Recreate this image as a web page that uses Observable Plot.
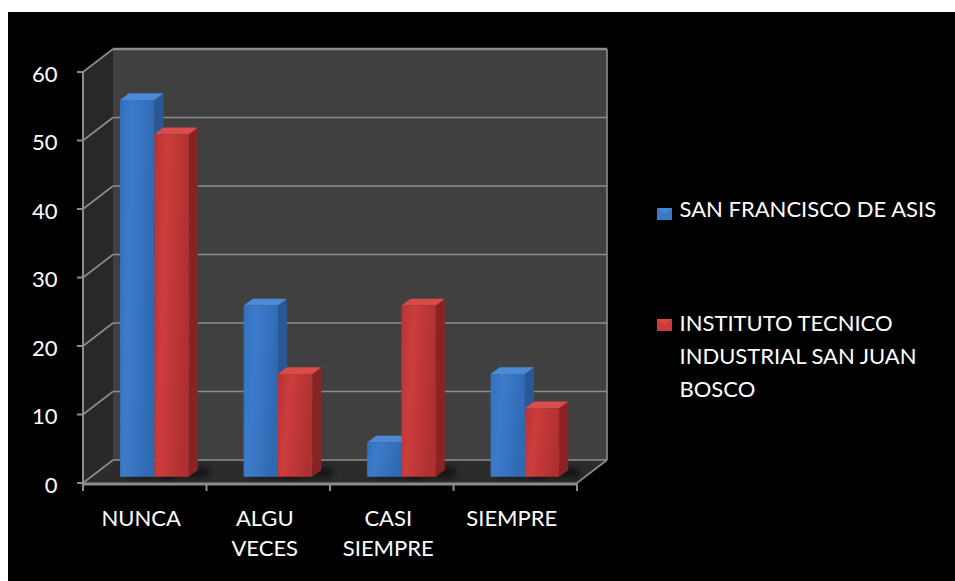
<!DOCTYPE html>
<html>
<head>
<meta charset="utf-8">
<script src="https://cdn.jsdelivr.net/npm/d3@7"></script>
<script src="https://cdn.jsdelivr.net/npm/@observablehq/plot@0.6"></script>
<style>
  html, body { margin: 0; padding: 0; background: #ffffff; }
  #chart { position: absolute; left: 8px; top: 12px; }
  #chart svg { display: block; }
</style>
</head>
<body>
<div id="chart"></div>
<script>
// ---- data ----
const categories = ["NUNCA", "ALGU VECES", "CASI SIEMPRE", "SIEMPRE"];
const categoryLabels = ["NUNCA", "ALGU\nVECES", "CASI\nSIEMPRE", "SIEMPRE"];
const seriesNames = ["SAN FRANCISCO DE ASIS", "INSTITUTO TECNICO\nINDUSTRIAL SAN JUAN\nBOSCO"];
const sanFrancisco = [55, 25, 5, 15];
const institutoTecnico = [50, 15, 25, 10];
const yTicks = [0, 10, 20, 30, 40, 50, 60];
const categoryTicks = [0, 1, 2, 3, 4];

// ---- style ----
const BLUE = {front: "url(#gBlue)", side: "#2a5894", top: "#4d8ad6", swatch: "#3b78c6"};
const RED = {front: "url(#gRed)", side: "#8a2424", top: "#dc4b4b", swatch: "#c93a3a"};
const seriesStyle = [BLUE, RED];
const DEPTH = [30, -23];          // back wall offset in px
const BAR_F0 = 0.27, BAR_F1 = 0.57; // bar depth span (fraction of depth)
const BAR_START = 0.235, BAR_W = 0.278;
const GRID = "#8c8c8c";

const bars = categories.flatMap((c, k) => [
  {k, s: 0, v: sanFrancisco[k]},
  {k, s: 1, v: institutoTecnico[k]}
]).map(d => ({...d, x1: d.k + BAR_START + d.s * BAR_W, x2: d.k + BAR_START + (d.s + 1) * BAR_W}));

const NS = "http://www.w3.org/2000/svg";
function el(tag, attrs, parent) {
  const e = document.createElementNS(NS, tag);
  for (const [k, v] of Object.entries(attrs)) e.setAttribute(k, v);
  if (parent) parent.appendChild(e);
  return e;
}
const pts = a => a.map(p => p.join(",")).join(" ");

// walls, gridlines, axes
function scene(index, scales, values, dimensions) {
  const {x, y} = scales;
  const g = el("g", {});
  const defs = el("defs", {}, g);
  const mk = (id, stops) => {
    const lg = el("linearGradient", {id, x1: "0", y1: "0", x2: "1", y2: "0.25"}, defs);
    stops.forEach(([o, c]) => el("stop", {offset: o, "stop-color": c}, lg));
  };
  mk("gBlue", [[0, "#3270bd"], [0.35, "#3d7ccb"], [1, "#2f69b3"]]);
  mk("gRed", [[0, "#b83333"], [0.35, "#cc3d3d"], [1, "#b03030"]]);
  const flt = el("filter", {id: "blur", x: "-50%", y: "-50%", width: "200%", height: "200%"}, defs);
  el("feGaussianBlur", {stdDeviation: "3"}, flt);

  const [dx, dy] = DEPTH;
  const X0 = x(0), X4 = x(4), Y0 = y(0), Y60 = y(60);
  // back wall
  el("polygon", {points: pts([[X0 + dx, Y60 + dy], [X4 + dx, Y60 + dy], [X4 + dx, Y0 + dy], [X0 + dx, Y0 + dy]]), fill: "#404040"}, g);
  // left wall
  el("polygon", {points: pts([[X0, Y0], [X0, Y60], [X0 + dx, Y60 + dy], [X0 + dx, Y0 + dy]]), fill: "#282828"}, g);
  // floor
  el("polygon", {points: pts([[X0, Y0], [X4, Y0], [X4 + dx, Y0 + dy], [X0 + dx, Y0 + dy]]), fill: "#2c2c2c"}, g);
  // gridlines
  for (const v of yTicks) {
    const yy = y(v);
    const w = v === 60 ? 2.5 : 1.6;
    el("line", {x1: X0 + dx, x2: X4 + dx, y1: yy + dy, y2: yy + dy, stroke: GRID, "stroke-width": w}, g);
    el("line", {x1: X0, x2: X0 + dx, y1: yy, y2: yy + dy, stroke: GRID, "stroke-width": 1.6}, g);
    el("line", {x1: X0 - 6, x2: X0, y1: yy, y2: yy, stroke: GRID, "stroke-width": 2}, g);
  }
  el("line", {x1: X4 + dx, x2: X4 + dx, y1: Y60 + dy, y2: Y0 + dy, stroke: GRID, "stroke-width": 1.6}, g);
  el("line", {x1: X4, x2: X4 + dx, y1: Y0, y2: Y0 + dy, stroke: GRID, "stroke-width": 1.6}, g);
  // shadows
  for (const d of bars) {
    const ax = x(d.x1) + BAR_F0 * dx, bx = x(d.x2) + BAR_F1 * dx;
    el("polygon", {points: pts([[ax + 6, Y0 + BAR_F0 * dy + 1], [bx + 10, Y0 + BAR_F0 * dy + 1], [bx + 12, Y0 + BAR_F1 * dy - 2], [ax + 8, Y0 + BAR_F1 * dy - 2]]), fill: "#000", opacity: 0.55, filter: "url(#blur)"}, g);
  }
  // bar sides and tops
  for (const d of bars) {
    const st = seriesStyle[d.s];
    const xa = x(d.x1), xb = x(d.x2), yb = y(0), yt = y(d.v);
    const f0 = [BAR_F0 * dx, BAR_F0 * dy], f1 = [BAR_F1 * dx, BAR_F1 * dy];
    el("polygon", {points: pts([[xb + f0[0], yb + f0[1]], [xb + f0[0], yt + f0[1]], [xb + f1[0], yt + f1[1]], [xb + f1[0], yb + f1[1]]]), fill: st.side}, g);
    el("polygon", {points: pts([[xa + f0[0], yt + f0[1]], [xb + f0[0], yt + f0[1]], [xb + f1[0], yt + f1[1]], [xa + f1[0], yt + f1[1]]]), fill: st.top}, g);
  }
  // front axes
  el("line", {x1: X0, x2: X0, y1: Y0, y2: Y60, stroke: GRID, "stroke-width": 2}, g);
  el("line", {x1: X0, x2: X4, y1: Y0 + 1, y2: Y0 + 1, stroke: GRID, "stroke-width": 3}, g);
  for (const t of categoryTicks) {
    el("line", {x1: x(t), x2: x(t), y1: Y0, y2: Y0 + 8, stroke: GRID, "stroke-width": 2}, g);
  }
  return g;
}

// legend swatches
function swatches(index, scales, values, dimensions) {
  const g = el("g", {});
  const lx = dimensions.width - dimensions.marginRight + 80;
  const ys = [dimensions.marginTop + 136, dimensions.marginTop + 247];
  seriesStyle.forEach((st, i) => {
    el("rect", {x: lx, y: ys[i], width: 15, height: 12, fill: st.swatch}, g);
    el("polygon", {points: pts([[lx, ys[i]], [lx + 15, ys[i]], [lx + 7.5, ys[i] + 6]]), fill: st.top, opacity: 0.8}, g);
  });
  return g;
}

const fontFamily = "Lato, 'Open Sans', sans-serif";
const chart = Plot.plot({
  width: 947,
  height: 569,
  marginLeft: 75,
  marginRight: 378,
  marginTop: 60,
  marginBottom: 98,
  x: {domain: [0, 4], axis: null},
  y: {domain: [0, 60], axis: null},
  style: {background: "#000000", color: "#ffffff", fontFamily, fontSize: "22px", overflow: "visible"},
  marks: [
    scene,
    Plot.rect(bars.filter(d => d.s === 0), {x1: "x1", x2: "x2", y1: 0, y2: "v", dx: BAR_F0 * DEPTH[0], dy: BAR_F0 * DEPTH[1], fill: BLUE.front}),
    Plot.rect(bars.filter(d => d.s === 1), {x1: "x1", x2: "x2", y1: 0, y2: "v", dx: BAR_F0 * DEPTH[0], dy: BAR_F0 * DEPTH[1], fill: RED.front}),
    Plot.text(yTicks, {x: 0, y: d => d, text: d => String(d), dx: -26, dy: 2, textAnchor: "end", fill: "#ffffff", fontSize: 22}),
    Plot.text(categoryLabels, {x: (d, i) => i + 0.5, y: 0, text: d => d, dx: -4, dy: 21, lineAnchor: "top", lineHeight: 1.36, fill: "#ffffff", fontSize: 22}),
    swatches,
    Plot.text([seriesNames[0]], {frameAnchor: "top-left", text: d => d, dx: 596, dy: 129, textAnchor: "start", lineAnchor: "top", fill: "#ffffff", fontSize: 22}),
    Plot.text([seriesNames[1]], {frameAnchor: "top-left", text: d => d, dx: 596, dy: 235, textAnchor: "start", lineAnchor: "top", lineHeight: 1.5, fill: "#ffffff", fontSize: 22})
  ]
});
document.getElementById("chart").appendChild(chart);
</script>
</body>
</html>
